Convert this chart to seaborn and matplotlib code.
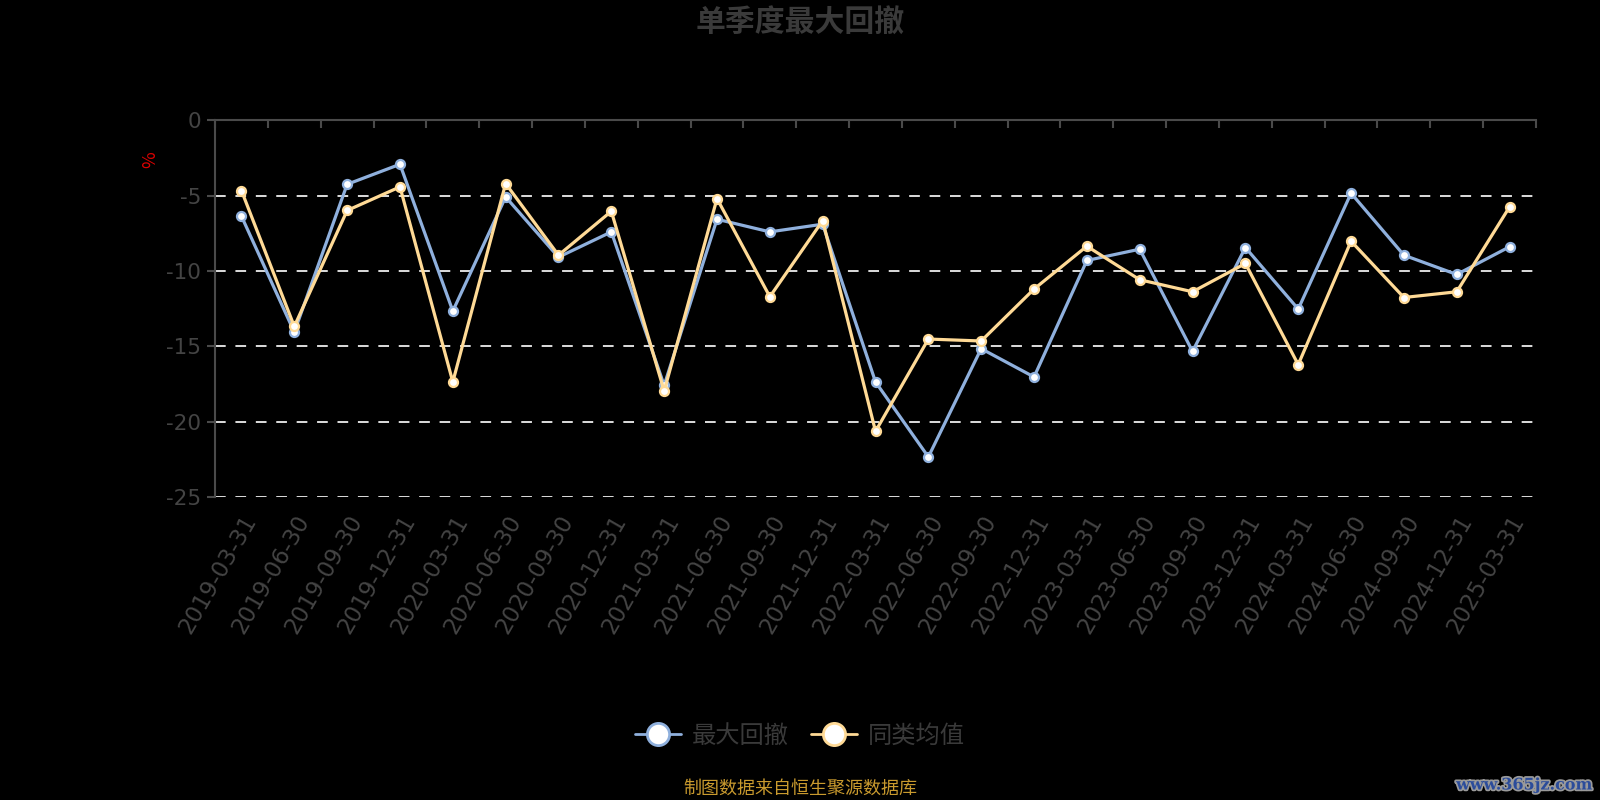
import pandas as pd
import numpy as np
import seaborn as sns
import matplotlib.pyplot as plt
from matplotlib.lines import Line2D
import matplotlib.patheffects as pe

quarters = ['2019-03-31', '2019-06-30', '2019-09-30', '2019-12-31',
            '2020-03-31', '2020-06-30', '2020-09-30', '2020-12-31',
            '2021-03-31', '2021-06-30', '2021-09-30', '2021-12-31',
            '2022-03-31', '2022-06-30', '2022-09-30', '2022-12-31',
            '2023-03-31', '2023-06-30', '2023-09-30', '2023-12-31',
            '2024-03-31', '2024-06-30', '2024-09-30', '2024-12-31',
            '2025-03-31']

# 最大回撤 (fund) and 同类均值 (peer average), in %
max_dd = [-6.36, -14.06, -4.24, -2.91, -12.66, -5.08, -9.08, -7.40,
          -17.6, -6.56, -7.40, -6.89, -17.37, -22.35, -15.16, -17.04,
          -9.30, -8.55, -15.34, -8.44, -12.53, -4.83, -8.95, -10.23, -8.39]
peer_avg = [-4.66, -13.68, -5.98, -4.41, -17.37, -4.19, -8.95, -6.03,
            -17.97, -5.19, -11.71, -6.65, -20.65, -14.52, -14.65, -11.2,
            -8.35, -10.58, -11.38, -9.5, -16.22, -8.02, -11.76, -11.38, -5.74]

series_names = ['最大回撤', '同类均值']
colors = ['#8FB0DD', '#FFDA96']
yticks = [0, -5, -10, -15, -20, -25]

df = pd.DataFrame({
    'pos': list(range(len(quarters))) * 2,
    'value': max_dd + peer_avg,
    'series': [series_names[0]] * len(quarters) + [series_names[1]] * len(quarters),
})

sns.set_style('dark')
plt.rcParams['font.family'] = ['Noto Sans CJK SC', 'DejaVu Sans']

fig = plt.figure(figsize=(16, 8), dpi=100, facecolor='black')
ax = fig.add_axes([0.1344, 0.379, 0.9600 - 0.1344, 0.8494 - 0.379])
ax.set_facecolor('black')

sns.lineplot(data=df, x='pos', y='value', hue='series', palette=colors,
             sort=False, marker='o', markersize=6.5, markerfacecolor='white',
             markeredgewidth=1.6, linewidth=2.3, legend=False, ax=ax, zorder=3)
# make marker edges follow each line's colour
for line, c in zip(ax.get_lines(), colors):
    line.set_markeredgecolor(c)

ax.set_xlim(-0.5, len(quarters) - 0.5)
ax.set_ylim(-25, 0)
ax.set_xlabel('')
ax.set_ylabel('')

# grid lines
for v in yticks[1:]:
    ax.axhline(v, color='#dddddd', lw=1.4, ls=(0, (5.5, 5)), zorder=1)
ax.grid(False)

for s in ['right', 'bottom']:
    ax.spines[s].set_visible(False)
for s in ['left', 'top']:
    ax.spines[s].set_visible(True)
    ax.spines[s].set_color('#4a4a4a')
    ax.spines[s].set_linewidth(1.5)

ax.set_yticks(yticks)
ax.set_yticklabels([str(v) for v in yticks], family='DejaVu Sans')
ax.tick_params(axis='y', which='major', left=True, direction='out', length=6,
               width=1.5, color='#4a4a4a', labelcolor='#444444', labelsize=15.5, pad=4)

ax.set_xticks(range(len(quarters)))
ax.set_xticklabels(quarters, rotation=60, ha='right', rotation_mode='anchor',
                   family='DejaVu Sans')
ax.set_xticks(np.arange(-0.5, len(quarters), 1.0), minor=True)
ax.tick_params(axis='x', which='major', bottom=True, top=False, length=0,
               labelcolor='#444444', labelsize=16.5, pad=10)
ax.tick_params(axis='x', which='minor', bottom=False, top=True, direction='in',
               length=6, width=1.5, color='#4a4a4a')

fig.text(0.5, 1 - 23 / 800, '单季度最大回撤', ha='center', va='center',
         fontsize=21.5, fontweight='bold', color='#3a3a3a')
fig.text(150 / 1600, 1 - 160 / 800, '%', rotation=90, ha='center', va='center',
         fontsize=13, color='#dd0000')

handles = [Line2D([0], [0], color=c, lw=2, marker='o', markersize=16,
                  markerfacecolor='white', markeredgecolor=c, markeredgewidth=2)
           for c in colors]
leg = fig.legend(handles, series_names, loc='center', bbox_to_anchor=(0.5, 1 - 736 / 800),
                 ncol=2, frameon=False, fontsize=17.5, handlelength=1.9,
                 columnspacing=0.9, handletextpad=0.45)
for t in leg.get_texts():
    t.set_color('#3a3a3a')

fig.text(0.5, 1 - 789 / 800, '制图数据来自恒生聚源数据库', ha='center', va='center',
         fontsize=13, color='#C99A2E')
fig.text(1592 / 1600, 1 - 785 / 800, 'www.365jz.com', ha='right', va='center',
         fontsize=11.5, fontweight='bold', family='DejaVu Serif', color='#2B4C9B',
         path_effects=[pe.withStroke(linewidth=2.5, foreground='#9a9a9a')])

fig.savefig('out.png', dpi=100, facecolor='black')
